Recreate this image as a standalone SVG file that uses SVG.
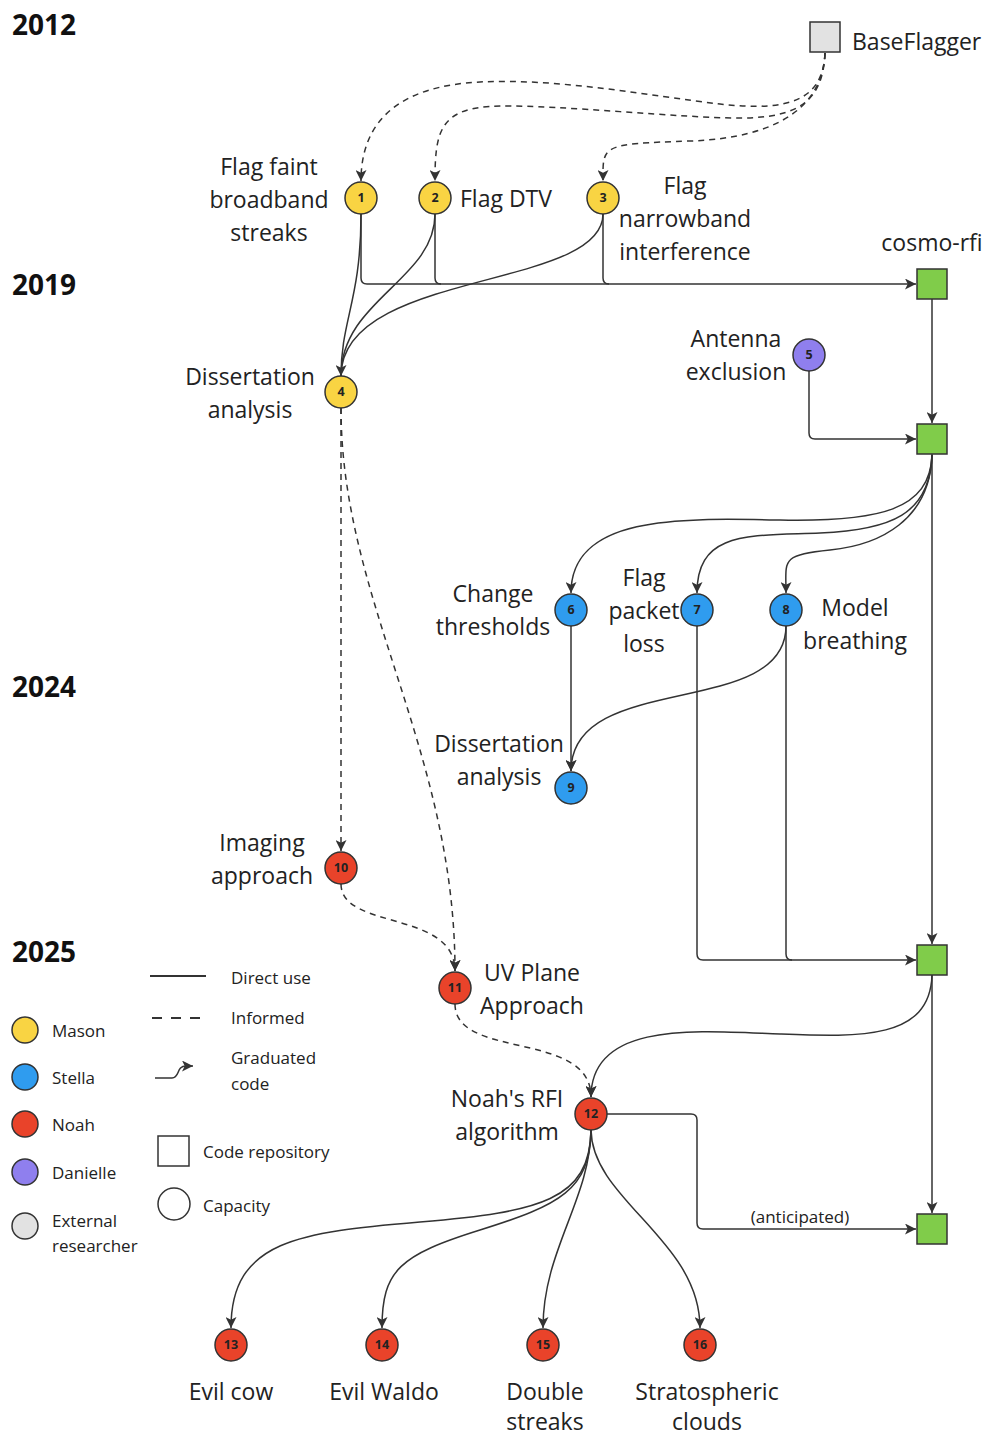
<svg xmlns="http://www.w3.org/2000/svg" width="986" height="1437" viewBox="0 0 986 1437">
<defs>
<marker id="ah" viewBox="0 0 10 10" refX="10" refY="5" markerWidth="11" markerHeight="11" markerUnits="userSpaceOnUse" orient="auto">
<path d="M0,0 L10,5 L0,10 L2.5,5 z" fill="#333"/>
</marker>
</defs>
<style>
text{font-family:"Open Sans","Liberation Sans",sans-serif;fill:#222}
.yr{font-size:28px;font-weight:700;fill:#111}
.lb{font-size:23px;text-anchor:middle}
.lbs{font-size:23px}
.lg{font-size:17px}
.num{font-size:12.5px;font-weight:700;text-anchor:middle;fill:#222}
.n{stroke:#333;stroke-width:1.5}
.y{fill:#f9d443}.b{fill:#2f9cef}.r{fill:#e9432a}.p{fill:#8f7fee}.g{fill:#e2e2e2}
.repo{fill:#80cc4a;stroke:#333;stroke-width:1.5}
.c{fill:none;stroke:#333;stroke-width:1.5}
.d{fill:none;stroke:#333;stroke-width:1.5;stroke-dasharray:6 5}
</style>
<rect width="986" height="1437" fill="#fff"/>
<g id="years">
<text class="yr" x="12" y="35">2012</text>
<text class="yr" x="12" y="295">2019</text>
<text class="yr" x="12" y="697">2024</text>
<text class="yr" x="12" y="962">2025</text>
</g>
<g id="connectors">
<path class="d" d="M825,53 C823,100 790,112 720,104 S560,78 480,82 S361,120 361,181" marker-end="url(#ah)"/>
<path class="d" d="M825,53 C823,100 800,118 740,118 S560,105 500,106 S435,130 435,181" marker-end="url(#ah)"/>
<path class="d" d="M825,53 C823,105 780,138 690,141 S603,145 603,181" marker-end="url(#ah)"/>
<path class="c" d="M361,214 C361,300 341,320 341,376" marker-end="url(#ah)"/>
<path class="c" d="M435,214 C435,280 341,300 341,376"/>
<path class="c" d="M603,214 C603,290 341,270 341,376"/>
<path class="c" d="M361,214 V278 Q361,284 367,284 H916" marker-end="url(#ah)"/>
<path class="c" d="M435,214 V278 Q435,284 441,284"/>
<path class="c" d="M603,214 V278 Q603,284 609,284"/>
<path class="c" d="M932,299 V423" marker-end="url(#ah)"/>
<path class="c" d="M809,371 V433 Q809,439 815,439 H916" marker-end="url(#ah)"/>
<path class="c" d="M932,454 V944" marker-end="url(#ah)"/>
<path class="c" d="M932,455 C930,510 880,522 780,520 S571,515 571,593" marker-end="url(#ah)"/>
<path class="c" d="M932,455 C930,515 890,530 820,533 S697,530 697,593" marker-end="url(#ah)"/>
<path class="c" d="M932,455 C930,520 880,545 830,550 S786,560 786,593" marker-end="url(#ah)"/>
<path class="c" d="M571,626 V771" marker-end="url(#ah)"/>
<path class="c" d="M786,626 C786,720 571,670 571,771" marker-end="url(#ah)"/>
<path class="c" d="M697,626 V954 Q697,960 703,960 H916" marker-end="url(#ah)"/>
<path class="c" d="M786,626 V954 Q786,960 792,960"/>
<path class="d" d="M341,408 V851" marker-end="url(#ah)"/>
<path class="d" d="M341,408 C341,600 455,750 455,971" marker-end="url(#ah)"/>
<path class="d" d="M341,884 C341,930 455,910 455,971" marker-end="url(#ah)"/>
<path class="d" d="M455,1004 C455,1060 591,1030 591,1097" marker-end="url(#ah)"/>
<path class="c" d="M932,975 C930,1040 860,1037 780,1034 S591,1020 591,1097" marker-end="url(#ah)"/>
<path class="c" d="M932,975 V1213" marker-end="url(#ah)"/>
<path class="c" d="M607,1114 H691 Q697,1114 697,1120 V1223 Q697,1229 703,1229 H916" marker-end="url(#ah)"/>
<text class="lg" x="800" y="1223" text-anchor="middle">(anticipated)</text>
<path class="c" d="M591,1130 C590,1200 540,1212 420,1222 S231,1240 231,1328" marker-end="url(#ah)"/>
<path class="c" d="M591,1130 C590,1190 560,1205 480,1230 S382,1270 382,1328" marker-end="url(#ah)"/>
<path class="c" d="M591,1130 C590,1200 543,1250 543,1328" marker-end="url(#ah)"/>
<path class="c" d="M591,1130 C592,1200 700,1240 700,1328" marker-end="url(#ah)"/>
</g>
<g id="baseflagger"><rect x="810" y="22" width="30" height="30" class="g n"/><text class="lbs" x="852" y="50">BaseFlagger</text></g>
<g id="n1"><circle cx="361" cy="198" r="16" class="y n"/><text class="num" x="361" y="202">1</text>
<text class="lb" x="269" y="175">Flag faint</text><text class="lb" x="269" y="208">broadband</text><text class="lb" x="269" y="241">streaks</text></g>
<g id="n2"><circle cx="435" cy="198" r="16" class="y n"/><text class="num" x="435" y="202">2</text><text class="lbs" x="460" y="207">Flag DTV</text></g>
<g id="n3"><circle cx="603" cy="198" r="16" class="y n"/><text class="num" x="603" y="202">3</text>
<text class="lb" x="685" y="194">Flag</text><text class="lb" x="685" y="227">narrowband</text><text class="lb" x="685" y="260">interference</text></g>
<g id="cosmo-rfi"><rect x="917" y="269" width="30" height="30" class="repo"/><text class="lb" x="932" y="251">cosmo-rfi</text></g>
<g id="n4"><circle cx="341" cy="392" r="16" class="y n"/><text class="num" x="341" y="396">4</text>
<text class="lb" x="250" y="385">Dissertation</text><text class="lb" x="250" y="418">analysis</text></g>
<g id="n5"><circle cx="809" cy="355" r="16" class="p n"/><text class="num" x="809" y="359">5</text>
<text class="lb" x="736" y="347">Antenna</text><text class="lb" x="736" y="380">exclusion</text></g>
<g id="repo2"><rect x="917" y="424" width="30" height="30" class="repo"/></g>
<g id="n6"><circle cx="571" cy="610" r="16" class="b n"/><text class="num" x="571" y="614">6</text>
<text class="lb" x="493" y="602">Change</text><text class="lb" x="493" y="635">thresholds</text></g>
<g id="n7"><circle cx="697" cy="610" r="16" class="b n"/><text class="num" x="697" y="614">7</text>
<text class="lb" x="644" y="586">Flag</text><text class="lb" x="644" y="619">packet</text><text class="lb" x="644" y="652">loss</text></g>
<g id="n8"><circle cx="786" cy="610" r="16" class="b n"/><text class="num" x="786" y="614">8</text>
<text class="lb" x="855" y="616">Model</text><text class="lb" x="855" y="649">breathing</text></g>
<g id="n9"><circle cx="571" cy="788" r="16" class="b n"/><text class="num" x="571" y="792">9</text>
<text class="lb" x="499" y="752">Dissertation</text><text class="lb" x="499" y="785">analysis</text></g>
<g id="n10"><circle cx="341" cy="868" r="16" class="r n"/><text class="num" x="341" y="872">10</text>
<text class="lb" x="262" y="851">Imaging</text><text class="lb" x="262" y="884">approach</text></g>
<g id="n11"><circle cx="455" cy="988" r="16" class="r n"/><text class="num" x="455" y="992">11</text>
<text class="lb" x="532" y="981">UV Plane</text><text class="lb" x="532" y="1014">Approach</text></g>
<g id="repo3"><rect x="917" y="945" width="30" height="30" class="repo"/></g>
<g id="n12"><circle cx="591" cy="1114" r="16" class="r n"/><text class="num" x="591" y="1118">12</text>
<text class="lb" x="507" y="1107">Noah's RFI</text><text class="lb" x="507" y="1140">algorithm</text></g>
<g id="repo4"><rect x="917" y="1214" width="30" height="30" class="repo"/></g>
<g id="n13"><circle cx="231" cy="1345" r="16" class="r n"/><text class="num" x="231" y="1349">13</text><text class="lb" x="231" y="1400">Evil cow</text></g>
<g id="n14"><circle cx="382" cy="1345" r="16" class="r n"/><text class="num" x="382" y="1349">14</text><text class="lb" x="384" y="1400">Evil Waldo</text></g>
<g id="n15"><circle cx="543" cy="1345" r="16" class="r n"/><text class="num" x="543" y="1349">15</text>
<text class="lb" x="545" y="1400">Double</text><text class="lb" x="545" y="1430">streaks</text></g>
<g id="n16"><circle cx="700" cy="1345" r="16" class="r n"/><text class="num" x="700" y="1349">16</text>
<text class="lb" x="707" y="1400">Stratospheric</text><text class="lb" x="707" y="1430">clouds</text></g>
<g id="legend">
<path class="c" d="M150,976 H206" style="stroke-width:2"/><text class="lg" x="231" y="984">Direct use</text>
<path class="c" d="M152,1018 H208" style="stroke-width:2;stroke-dasharray:10 9"/><text class="lg" x="231" y="1024">Informed</text>
<path class="c" d="M155,1078 H172 C180,1078 176,1066 186,1066 H193" marker-end="url(#ah)"/>
<text class="lg" x="231" y="1064">Graduated</text><text class="lg" x="231" y="1090">code</text>
<rect x="158" y="1136" width="31" height="30" fill="none" stroke="#333" stroke-width="1.5"/><text class="lg" x="203" y="1158">Code repository</text>
<circle cx="174" cy="1204" r="16" fill="none" stroke="#333" stroke-width="1.5"/><text class="lg" x="203" y="1212">Capacity</text>
<circle cx="25" cy="1030" r="13" class="y n"/><text class="lg" x="52" y="1037">Mason</text>
<circle cx="25" cy="1077" r="13" class="b n"/><text class="lg" x="52" y="1084">Stella</text>
<circle cx="25" cy="1124" r="13" class="r n"/><text class="lg" x="52" y="1131">Noah</text>
<circle cx="25" cy="1172" r="13" class="p n"/><text class="lg" x="52" y="1179">Danielle</text>
<circle cx="25" cy="1226" r="13" class="g n"/><text class="lg" x="52" y="1227">External</text><text class="lg" x="52" y="1252">researcher</text>
</g>
</svg>
